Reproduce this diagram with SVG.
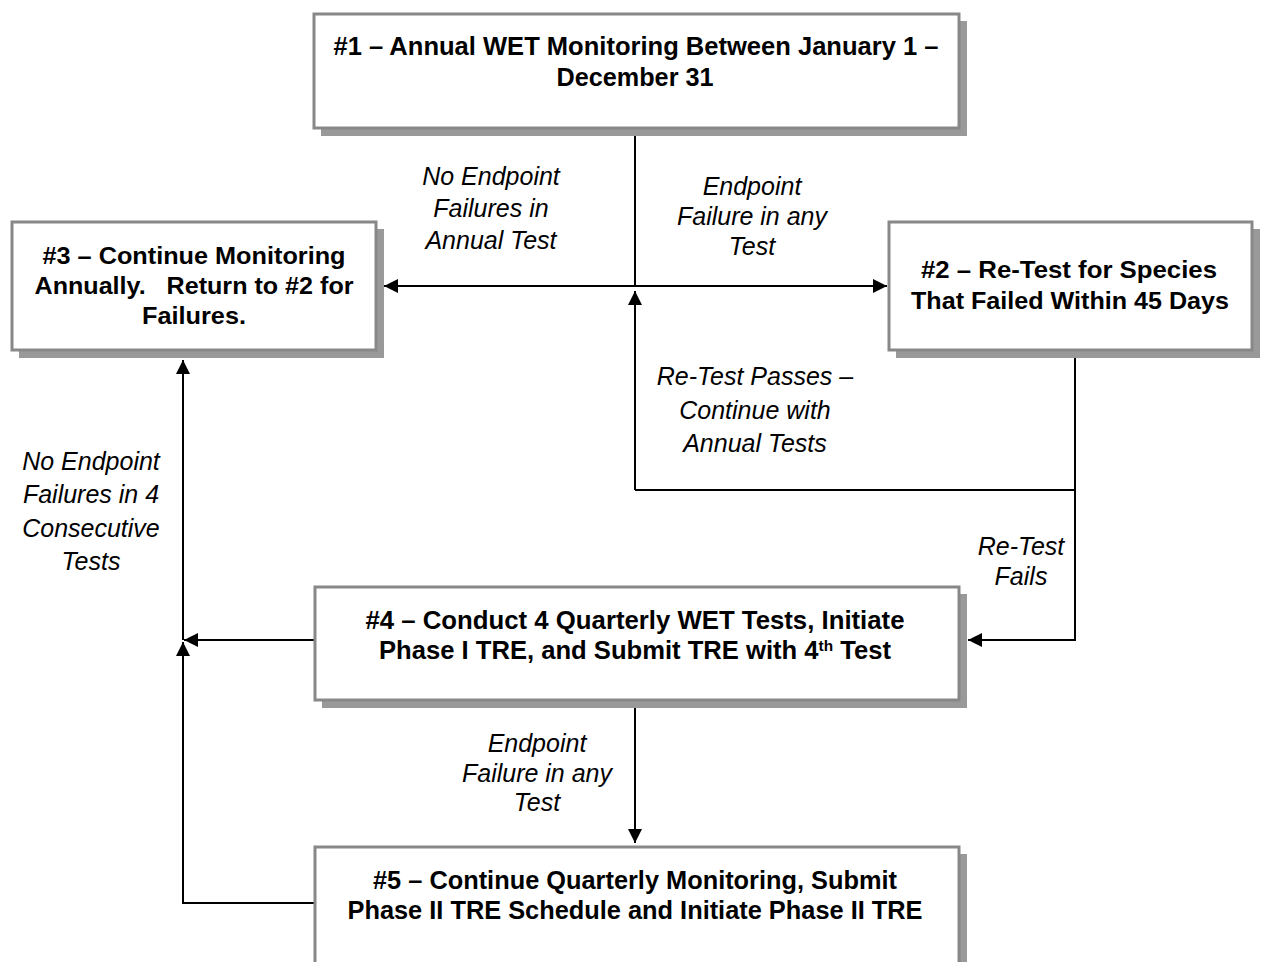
<svg xmlns="http://www.w3.org/2000/svg" width="1264" height="962" viewBox="0 0 1264 962">
<style>
.shadow{fill:#999999;}
.box{fill:#ffffff;stroke:#888888;stroke-width:3;}
.bt{font-family:"Liberation Sans",Arial,sans-serif;font-weight:bold;font-size:24px;fill:#000;text-anchor:middle;}
.bn{font-family:"Liberation Sans Narrow","Liberation Sans",Arial,sans-serif;font-weight:bold;font-size:25px;fill:#000;text-anchor:middle;}
.lbl{font-family:"Liberation Sans",Arial,sans-serif;font-style:italic;font-size:25px;fill:#000;text-anchor:middle;}
.conn{fill:none;stroke:#000;stroke-width:2;}
</style>
<defs>
<marker id="arr" markerUnits="userSpaceOnUse" markerWidth="14" markerHeight="14" refX="14" refY="7" orient="auto">
<path d="M0,0 L14,7 L0,14 z" fill="#000"/>
</marker>
</defs>
<rect width="1264" height="962" fill="#ffffff"/>

<g id="connectors">
<path class="conn" d="M635,129 V286"/>
<path class="conn" d="M635,286 H384" marker-end="url(#arr)"/>
<path class="conn" d="M635,286 H887" marker-end="url(#arr)"/>
<path class="conn" d="M635,490 V291" marker-end="url(#arr)"/>
<path class="conn" d="M1075,351 V640 H968" marker-end="url(#arr)"/>
<path class="conn" d="M1075,490 H635"/>
<path class="conn" d="M314,640 H184" marker-end="url(#arr)"/>
<path class="conn" d="M183,640 V360" marker-end="url(#arr)"/>
<path class="conn" d="M314,903 H183 V642" marker-end="url(#arr)"/>
<path class="conn" d="M635,701 V843" marker-end="url(#arr)"/>
<g id="labels">
<text class="lbl" x="491" y="185">No Endpoint</text>
<text class="lbl" x="491" y="217">Failures in</text>
<text class="lbl" x="491" y="249">Annual Test</text>
<text class="lbl" x="752" y="195">Endpoint</text>
<text class="lbl" x="752" y="225">Failure in any</text>
<text class="lbl" x="752" y="255">Test</text>
<text class="lbl" x="755" y="385">Re-Test Passes –</text>
<text class="lbl" x="755" y="419">Continue with</text>
<text class="lbl" x="755" y="452">Annual Tests</text>
<text class="lbl" x="91" y="470">No Endpoint</text>
<text class="lbl" x="91" y="503">Failures in 4</text>
<text class="lbl" x="91" y="537">Consecutive</text>
<text class="lbl" x="91" y="570">Tests</text>
<text class="lbl" x="1021" y="555">Re-Test</text>
<text class="lbl" x="1021" y="585">Fails</text>
<text class="lbl" x="537" y="752">Endpoint</text>
<text class="lbl" x="537" y="782">Failure in any</text>
<text class="lbl" x="537" y="811">Test</text>
</g>
</g>

<g id="node1">
<rect class="shadow" x="321" y="21" width="646" height="115"/>
<rect class="box" x="314" y="14" width="645" height="114"/>
<text class="bn" x="636" y="55" textLength="605" lengthAdjust="spacingAndGlyphs">#1 – Annual WET Monitoring Between January 1 –</text>
<text class="bn" x="635" y="86" textLength="157" lengthAdjust="spacingAndGlyphs">December 31</text>
</g>

<g id="node3">
<rect class="shadow" x="19" y="229" width="365" height="129"/>
<rect class="box" x="12" y="222" width="364" height="128"/>
<text class="bt" x="194" y="264" textLength="303" lengthAdjust="spacingAndGlyphs">#3 – Continue Monitoring</text>
<text class="bt" x="194" y="294" xml:space="preserve" textLength="319" lengthAdjust="spacingAndGlyphs">Annually.   Return to #2 for</text>
<text class="bt" x="194" y="324" textLength="104" lengthAdjust="spacingAndGlyphs">Failures.</text>
</g>

<g id="node2">
<rect class="shadow" x="896" y="229" width="364" height="129"/>
<rect class="box" x="889" y="222" width="363" height="128"/>
<text class="bt" x="1069" y="278" textLength="296" lengthAdjust="spacingAndGlyphs">#2 – Re-Test for Species</text>
<text class="bt" x="1070" y="309" textLength="318" lengthAdjust="spacingAndGlyphs">That Failed Within 45 Days</text>
</g>

<g id="node4">
<rect class="shadow" x="322" y="594" width="645" height="114"/>
<rect class="box" x="315" y="587" width="644" height="113"/>
<text class="bn" x="635" y="629" textLength="539" lengthAdjust="spacingAndGlyphs">#4 – Conduct 4 Quarterly WET Tests, Initiate</text>
<text class="bn" x="635" y="659" textLength="512" lengthAdjust="spacingAndGlyphs">Phase I TRE, and Submit TRE with 4<tspan font-size="15" baseline-shift="8">th</tspan> Test</text>
</g>

<g id="node5">
<rect class="shadow" x="322" y="854" width="645" height="130"/>
<rect class="box" x="315" y="847" width="644" height="130"/>
<text class="bn" x="635" y="889" textLength="524" lengthAdjust="spacingAndGlyphs">#5 – Continue Quarterly Monitoring, Submit</text>
<text class="bn" x="635" y="919" textLength="575" lengthAdjust="spacingAndGlyphs">Phase II TRE Schedule and Initiate Phase II TRE</text>
</g>
</svg>
